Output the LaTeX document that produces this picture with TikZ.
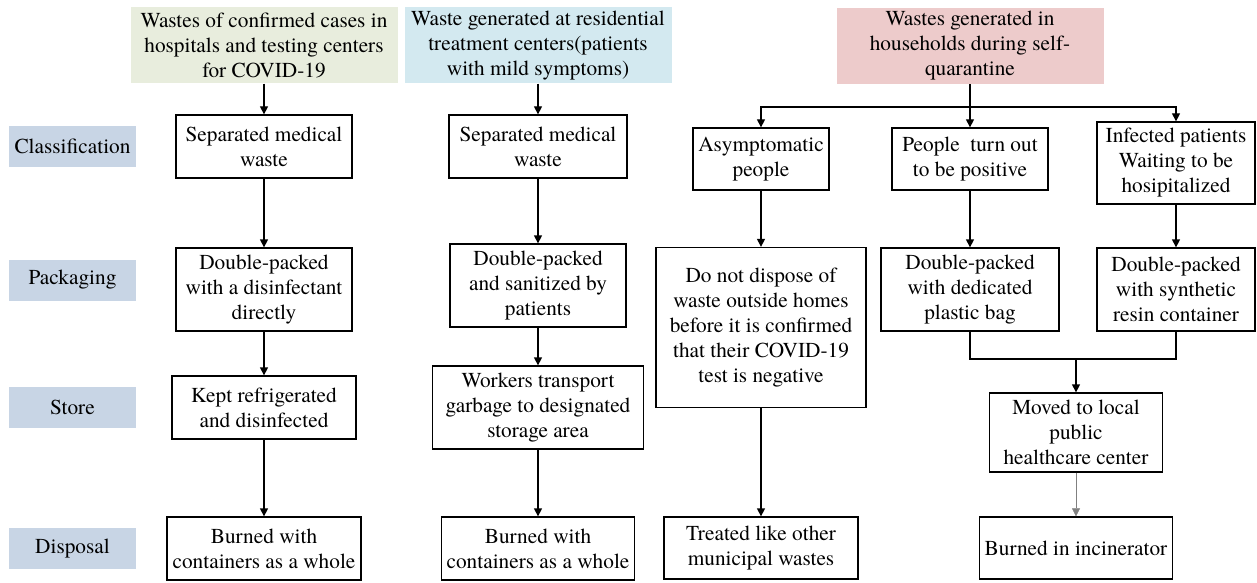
\documentclass[tikz,border=0pt]{standalone}
\usepackage{fontspec}
\setmainfont{texgyretermes}[Extension=.otf, UprightFont=*-regular, BoldFont=*-bold, ItalicFont=*-italic, BoldItalicFont=*-bolditalic]
\usepackage{tikz}
\usetikzlibrary{arrows.meta}
\usepackage{xcolor}

\definecolor{hospgreen}{RGB}{232,237,221}
\definecolor{resiblue}{RGB}{211,233,240}
\definecolor{homepink}{RGB}{237,203,203}
\definecolor{rowblue}{RGB}{200,213,229}

\begin{document}
\begin{tikzpicture}[x=1pt, y=-1pt,
			font=\fontsize{21.3}{25}\selectfont,
			wbox/.style={draw, line width=1.3pt, align=center, inner sep=0pt},
			srcbox/.style={align=center, inner sep=0pt, minimum width=267pt, minimum height=76pt},
			rowlabel/.style={fill=rowblue, inner sep=0pt, minimum width=127pt, minimum height=41pt},
			link/.style={line width=1.3pt, -{Triangle[length=8pt,width=8pt]}}]
			\useasboundingbox (0,0) rectangle (1257,583);
			
			% sources
			\node[srcbox, fill=hospgreen] (h1) at (264,45.5) {Wastes of confirmed cases in\\hospitals and testing centers\\for COVID-19};
			\node[srcbox, fill=resiblue] (h2) at (538,45.5) {Waste generated at residential\\treatment centers(patients\\with mild symptoms)};
			\node[srcbox, fill=homepink] (h3) at (970,46) {Wastes generated in\\households during self-\\quarantine};
			
			% rows
			\node[rowlabel] (classif) at (72.5,146.5) {Classification};
			\node[rowlabel] (packag) at (72.5,280) {Packaging};
			\node[rowlabel] (store) at (72.5,407) {Store};
			\node[rowlabel] (dispos) at (72.5,548.5) {Disposal};
			
			% hospitals
			\node[wbox, minimum width=176pt, minimum height=63pt] (c1a) at (264,146.5) {Separated medical\\waste};
			\node[wbox, minimum width=176pt, minimum height=83pt] (c1b) at (264,289.5) {Double-packed\\with a disinfectant\\directly};
			\node[wbox, minimum width=184pt, minimum height=63pt] (c1c) at (264,407.5) {Kept refrigerated\\and disinfected};
			\node[wbox, minimum width=194pt, minimum height=63pt] (c1d) at (264,548.5) {Burned with\\containers as a whole};
			
			% treatment centers
			\node[wbox, minimum width=178pt, minimum height=63pt] (c2a) at (538,146.5) {Separated medical\\waste};
			\node[wbox, minimum width=176pt, minimum height=83pt] (c2b) at (538,285.5) {Double-packed\\and sanitized by\\patients};
			\node[wbox, minimum width=211pt, minimum height=83pt] (c2c) at (538,407.5) {Workers transport\\garbage to designated\\storage area};
			\node[wbox, minimum width=193pt, minimum height=63pt] (c2d) at (538,548.5) {Burned with\\containers as a whole};
			
			% households
			\node[wbox, minimum width=136pt, minimum height=62pt] (c3a) at (761,159) {Asymptomatic\\people};
			\node[wbox, minimum width=156pt, minimum height=62pt] (c3b) at (970,159) {People~ turn out\\to be positive};
			\node[wbox, minimum width=158pt, minimum height=82pt] (c3c) at (1176,163) {Infected patients\\Waiting to be\\hosipitalized};
			\node[wbox, minimum width=210pt, minimum height=160pt] (c3d) at (761,327.5) {Do not dispose of\\waste outside homes\\before it is confirmed\\that their COVID-19\\test is negative};
			\node[wbox, minimum width=178pt, minimum height=83pt] (c3e) at (970,289.5) {Double-packed\\with dedicated\\plastic bag};
			\node[wbox, minimum width=158pt, minimum height=83pt] (c3f) at (1176,289.5) {Double-packed\\with synthetic\\resin container};
			\node[wbox, minimum width=173pt, minimum height=79pt] (c3g) at (1076,432.5) {Moved to local\\public\\healthcare center};
			\node[wbox, minimum width=194pt, minimum height=62pt] (c3h) at (761,548) {Treated like other\\municipal wastes};
			\node[wbox, minimum width=193pt, minimum height=62pt] (c3i) at (1076,548) {Burned in incinerator};
			
			\coordinate (split) at (970,107);
			\coordinate (join) at (1076,359);
			
			\draw[link] (h1) -- (c1a);
			\draw[link] (c1a) -- (c1b);
			\draw[link] (c1b) -- (c1c);
			\draw[link] (c1c) -- (c1d);
			
			\draw[link] (h2) -- (c2a);
			\draw[link] (c2a) -- (c2b);
			\draw[link] (c2b) -- (c2c);
			\draw[link] (c2c) -- (c2d);
			
			\draw[line width=1.3pt] (h3.south) -- (split);
			\draw[link] (split) -| (c3a.north);
			\draw[link] (split) -- (c3b.north);
			\draw[link] (split) -| (c3c.north);
			\draw[link] (c3a) -- (c3d);
			\draw[link] (c3d) -- (c3h);
			\draw[link] (c3b) -- (c3e);
			\draw[link] (c3c) -- (c3f);
			\draw[line width=1.3pt] (c3e.south) |- (join) -| (c3f.south);
			\draw[link] (join) -- (c3g);
			\draw[link, line width=0.5pt, draw=gray] (c3g) -- (c3i);
			\end{tikzpicture}
\end{document}
